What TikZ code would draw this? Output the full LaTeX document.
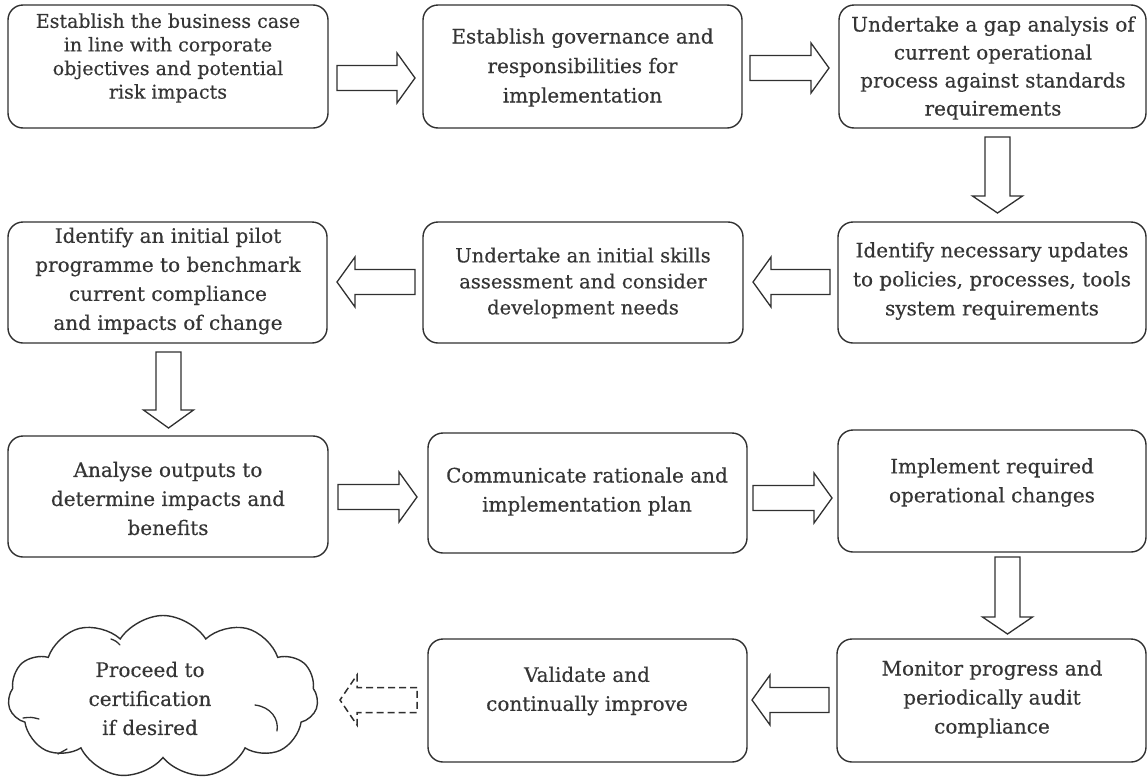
\documentclass[tikz,border=0pt]{standalone}
\usepackage{fontspec}
\setmainfont{DejaVu Serif}[FakeBold=0.4]
\usetikzlibrary{shapes.symbols,calc}

\definecolor{ink}{HTML}{303030}
\definecolor{txtc}{HTML}{353535}
\newcommand\fsz[2]{\fontsize{#1}{#2}\selectfont}

% horizontal block arrow: tail x, head base x, tip x, centre y
\newcommand\harrow[5][]{%
  \draw[barrow,#1] (#2,{#5-12.5}) -- (#3,{#5-12.5}) -- (#3,{#5-25}) -- (#4,#5)
    -- (#3,{#5+25}) -- (#3,{#5+12.5}) -- (#2,{#5+12.5}) -- cycle;}
% vertical block arrow: centre x, tail y, head base y, tip y
\newcommand\varrow[4]{%
  \draw[barrow] ({#1-12.5},#2) -- ({#1-12.5},#3) -- ({#1-25},#3) -- (#1,#4)
    -- ({#1+25},#3) -- ({#1+12.5},#3) -- ({#1+12.5},#2) -- cycle;}

\begin{document}
\begin{tikzpicture}[x=1pt,y=-1pt,
  stepbox/.style={draw=ink, line width=1.4pt, rounded corners=15pt, inner sep=0pt},
  txt/.style={text=txtc, align=center, inner sep=0pt},
  barrow/.style={draw=ink, line width=1.3pt, fill=white, line join=miter},
  cloudbox/.style={draw=ink, line width=1.4pt, cloud, cloud puffs=11, cloud puff arc=115,
    aspect=1.9, inner sep=0pt},
  puffline/.style={draw=ink, line width=1.3pt, line cap=round}]
\useasboundingbox (0,0) rectangle (1148,782);

% boxes, each given by its corners
\newcommand\stepnode[5]{%
  \node[stepbox, minimum width={#4-#2}, minimum height={#5-#3}] (#1) at ({(#2+#4)/2},{(#3+#5)/2}) {};}
\stepnode{A}{8}{5}{328}{128}
\stepnode{B}{423}{5}{742}{128}
\stepnode{C}{839}{5}{1146}{128}
\stepnode{D}{838}{222}{1146}{343}
\stepnode{E}{423}{222}{743}{343}
\stepnode{F}{8}{222}{327}{343}
\stepnode{G}{8}{436}{328}{557}
\stepnode{H}{428}{433}{747}{553}
\stepnode{I}{838}{430}{1146}{552}
\stepnode{J}{837}{639}{1146}{762}
\stepnode{K}{428}{639}{747}{762}

\node[cloudbox, minimum width=310pt, minimum height=163pt] (cl) at (163,697) {};
% inner puff seams of the cloud
\draw[puffline] ($(cl.center)+(92,8)$) .. controls ($(cl.center)+(108,10)$) and ($(cl.center)+(116,22)$) .. ($(cl.center)+(114,34)$);
\draw[puffline] ($(cl.center)+(-52,-58)$) .. controls ($(cl.center)+(-47,-56)$) .. ($(cl.center)+(-43,-52)$);
\draw[puffline] ($(cl.center)+(-140,21)$) .. controls ($(cl.center)+(-132,20)$) .. ($(cl.center)+(-124,22)$);
\draw[puffline] ($(cl.center)+(-105,57)$) .. controls ($(cl.center)+(-100,54)$) .. ($(cl.center)+(-96,52)$);

% texts
\node[txt, font=\fsz{19}{23.6}] (tA) at (168,58) {Establish the business case\\in line with corporate\\objectives and potential\\risk impacts};
\node[txt, font=\fsz{20}{29.5}] (tB) at (B.center) [yshift=-1pt] {Establish governance and\\responsibilities for\\implementation};
\node[txt, font=\fsz{20}{28}] (tC) at (993,68) {Undertake a gap analysis of\\current operational\\process against standards\\requirements};
\node[txt, font=\fsz{20}{29}] (tD) at (992,281) {Identify necessary updates\\to policies, processes, tools\\system requirements};
\node[txt, font=\fsz{19.5}{26}] (tE) at (583,283) {Undertake an initial skills\\assessment and consider\\development needs};
\node[txt, font=\fsz{20}{29}] (tF) at (168,281) {Identify an initial pilot\\programme to benchmark\\current compliance\\and impacts of change};
\node[txt, font=\fsz{20}{29}] (tG) at (168,498.5) {Analyse outputs to\\determine impacts and\\benefits};
\node[txt, font=\fsz{20}{29}] (tH) at (587,491.5) {Communicate rationale and\\implementation plan};
\node[txt, font=\fsz{20}{29}] (tI) at (992,482.5) {Implement required\\operational changes};
\node[txt, font=\fsz{20}{29}] (tJ) at (992,699) {Monitor progress and\\periodically audit\\compliance};
\node[txt, font=\fsz{20}{29}] (tK) at (587,691) {Validate and\\continually improve};
\node[txt, font=\fsz{20}{29}] (tcl) at (150,698.5) {Proceed to\\certification\\if desired};

% block arrows between the steps
\harrow{337}{397}{415}{78}
\harrow{750}{811}{829}{68}
\varrow{997.5}{137}{196}{213}
\harrow{830}{771}{753}{282}
\harrow{415}{355}{337}{282}
\varrow{168.5}{352}{410}{428}
\harrow{338}{399}{417}{497}
\harrow{753}{814}{832}{498}
\varrow{1007.5}{557}{617}{634}
\harrow{829}{770}{752}{700}
\harrow[dash pattern=on 7pt off 4pt, line width=1.5pt]{417}{357}{340}{700}
\end{tikzpicture}
\end{document}
